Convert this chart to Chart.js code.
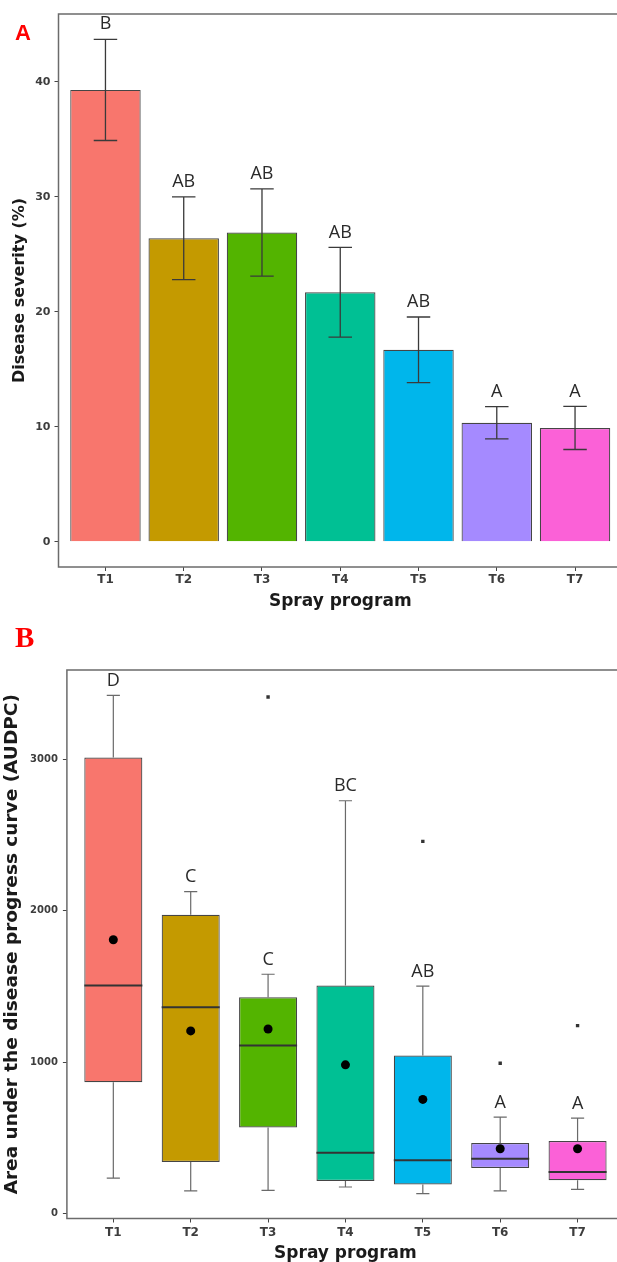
<!DOCTYPE html>
<html><head><meta charset="utf-8">
<script src="https://cdn.jsdelivr.net/npm/chart.js@4/dist/chart.umd.min.js"></script>
<style>
html,body{margin:0;padding:0;background:#fff;overflow:hidden;width:617px;height:1262px;}
#wrap{position:relative;width:640px;height:1262px;overflow:hidden;}
canvas{position:absolute;left:0;}
#cA{top:0}
#cB{top:615px}
</style></head><body>
<div id="wrap"><canvas id="cA" width="640" height="615"></canvas><canvas id="cB" width="640" height="660"></canvas></div>
<script>
// ---------- data ----------
const categories = ['T1','T2','T3','T4','T5','T6','T7'];
const colors = ['#F8766D','#C49A00','#53B400','#00C094','#00B6EB','#A58AFF','#FB61D7'];
// Panel A: disease severity (%)
const severityMean = [39.3, 26.4, 26.9, 21.7, 16.7, 10.35, 9.9];
const severitySE = [4.4, 3.6, 3.8, 3.9, 2.85, 1.4, 1.87];
const severityLetters = ['B','AB','AB','AB','AB','A','A'];
const severityTicks = [0, 10, 20, 30, 40];
// Panel B: AUDPC boxplots
const audpcLowerWhisker = [235, 150, 154, 176, 132, 150, 160];
const audpcQ1 = [868, 341, 569, 215, 193, 301, 220];
const audpcMedian = [1505, 1362, 1110, 402, 352, 363, 275];
const audpcQ3 = [3010, 1973, 1428, 1505, 1044, 466, 479];
const audpcUpperWhisker = [3421, 2125, 1580, 2725, 1501, 637, 631];
const audpcMean = [1808, 1206, 1219, 982, 754, 428, 428];
const audpcOutlierGroup = [3, 5, 6, 7];
const audpcOutlierValue = [3410, 2457, 993, 1241];
const audpcLetters = ['D','C','C','BC','AB','A','A'];
const audpcTicks = [0, 1000, 2000, 3000];

// ---------- helpers ----------
const FONT = "'DejaVu Sans', sans-serif";
const tickColor = '#3d3d3d';
const titleColor = '#1a1a1a';

function xScaleCfg(title, tickFont, titleFont, titlePadBottom, xHeight, tickPad) {
  return {
    type: 'linear', min: 0.4, max: 7.6, offset: false,
    afterBuildTicks: s => { s.ticks = categories.map((c, i) => ({ value: i + 1 })); },
    afterFit: s => { s.height = xHeight; },
    ticks: { callback: v => categories[Math.round(v) - 1], color: tickColor, font: tickFont, padding: tickPad, maxRotation: 0, autoSkip: false },
    grid: { drawOnChartArea: false, drawTicks: true, tickLength: 4, color: '#444', offset: false },
    border: { display: false },
    title: { display: true, text: title, color: titleColor, font: titleFont, padding: { top: 0, bottom: titlePadBottom } }
  };
}
function yScaleCfg(title, min, max, tickVals, tickFont, titleFont, titlePadTop, yWidth, tickPad) {
  return {
    type: 'linear', min: min, max: max,
    afterBuildTicks: s => { s.ticks = tickVals.map(v => ({ value: v })); },
    afterFit: s => { s.width = yWidth; },
    ticks: { callback: v => String(v), color: tickColor, font: tickFont, padding: tickPad },
    grid: { drawOnChartArea: false, drawTicks: true, tickLength: 4, color: '#444' },
    border: { display: false },
    title: { display: true, text: title, color: titleColor, font: titleFont, padding: { top: titlePadTop, bottom: 0 } }
  };
}
const framePlugin = {
  id: 'frame',
  afterDraw(chart) {
    const a = chart.chartArea, ctx = chart.ctx;
    ctx.save();
    ctx.strokeStyle = '#6b6b6b'; ctx.lineWidth = 1.5;
    ctx.strokeRect(a.left, a.top, a.right - a.left, a.bottom - a.top);
    ctx.restore();
  }
};
function panelLabel(text, font, x, y) {
  return {
    id: 'panelLabel',
    afterDraw(chart) {
      const ctx = chart.ctx;
      ctx.save();
      ctx.fillStyle = '#ff0000'; ctx.font = font;
      ctx.textAlign = 'left'; ctx.textBaseline = 'alphabetic';
      ctx.fillText(text, x, y);
      ctx.restore();
    }
  };
}
const letterFont = "18px 'Open Sans', sans-serif";

// ---------- Panel A ----------
const errorBarPlugin = {
  id: 'errorBars',
  afterDatasetsDraw(chart) {
    const xs = chart.scales.x, ys = chart.scales.y, ctx = chart.ctx;
    ctx.save();
    ctx.strokeStyle = '#3a3a3a'; ctx.lineWidth = 1.3;
    ctx.fillStyle = '#2a2a2a'; ctx.font = letterFont;
    ctx.textAlign = 'center'; ctx.textBaseline = 'middle';
    severityMean.forEach((m, i) => {
      const x = xs.getPixelForValue(i + 1);
      const hw = xs.getPixelForValue(i + 1.15) - x;
      const yt = ys.getPixelForValue(m + severitySE[i]);
      const yb = ys.getPixelForValue(m - severitySE[i]);
      ctx.beginPath();
      ctx.moveTo(x, yt); ctx.lineTo(x, yb);
      ctx.moveTo(x - hw, yt); ctx.lineTo(x + hw, yt);
      ctx.moveTo(x - hw, yb); ctx.lineTo(x + hw, yb);
      ctx.stroke();
      ctx.fillText(severityLetters[i], x, yt - 15);
    });
    ctx.restore();
  }
};

new Chart(document.getElementById('cA'), {
  type: 'bar',
  data: {
    datasets: [{
      data: severityMean.map((v, i) => ({ x: i + 1, y: v })),
      backgroundColor: colors,
      borderColor: '#454545', borderWidth: 1.2,
      barPercentage: 0.9, categoryPercentage: 1
    }]
  },
  options: {
    responsive: false, animation: false,
    layout: { padding: { top: 14, right: 18, left: 0, bottom: 0 } },
    plugins: { legend: { display: false }, tooltip: { enabled: false } },
    scales: {
      x: xScaleCfg('Spray program', { family: FONT, size: 12, weight: 'bold' }, { family: FONT, size: 17, weight: 'bold', lineHeight: 1.2 }, 3, 48, 2),
      y: yScaleCfg('Disease severity (%)', -2.19, 45.9, severityTicks, { family: FONT, size: 11, weight: 'bold' }, { family: FONT, size: 16, weight: 'bold', lineHeight: 1.2 }, 10, 58.5, 4)
    }
  },
  plugins: [framePlugin, errorBarPlugin, panelLabel('A', "bold 22px 'Liberation Sans', Arial, sans-serif", 15, 40)]
});

// ---------- Panel B ----------
const boxPlugin = {
  id: 'boxParts',
  beforeDatasetsDraw(chart) {
    const xs = chart.scales.x, ys = chart.scales.y, ctx = chart.ctx;
    ctx.save();
    ctx.strokeStyle = '#6a6a6a'; ctx.lineWidth = 1.2;
    categories.forEach((c, i) => {
      const x = xs.getPixelForValue(i + 1);
      const hw = xs.getPixelForValue(i + 1.085) - x;
      const yl = ys.getPixelForValue(audpcLowerWhisker[i]);
      const yq1 = ys.getPixelForValue(audpcQ1[i]);
      const yq3 = ys.getPixelForValue(audpcQ3[i]);
      const yu = ys.getPixelForValue(audpcUpperWhisker[i]);
      ctx.beginPath();
      ctx.moveTo(x, yq1); ctx.lineTo(x, yl);
      ctx.moveTo(x, yq3); ctx.lineTo(x, yu);
      ctx.moveTo(x - hw, yl); ctx.lineTo(x + hw, yl);
      ctx.moveTo(x - hw, yu); ctx.lineTo(x + hw, yu);
      ctx.stroke();
    });
    ctx.restore();
  },
  afterDatasetDraw(chart, args) {
    if (args.index !== 0) return;
    const ys = chart.scales.y, ctx = chart.ctx;
    const bars = chart.getDatasetMeta(0).data;
    ctx.save();
    ctx.strokeStyle = '#333'; ctx.lineWidth = 2;
    audpcMedian.forEach((m, i) => {
      const b = bars[i];
      const y = ys.getPixelForValue(m);
      ctx.beginPath();
      ctx.moveTo(b.x - b.width / 2, y); ctx.lineTo(b.x + b.width / 2, y);
      ctx.stroke();
    });
    ctx.restore();
  },
  afterDatasetsDraw(chart) {
    const xs = chart.scales.x, ys = chart.scales.y, ctx = chart.ctx;
    ctx.save();
    ctx.fillStyle = '#2a2a2a'; ctx.font = letterFont;
    ctx.textAlign = 'center'; ctx.textBaseline = 'middle';
    audpcLetters.forEach((t, i) => {
      const x = xs.getPixelForValue(i + 1);
      const yu = ys.getPixelForValue(audpcUpperWhisker[i]);
      ctx.fillText(t, x, yu - 14.5);
    });
    ctx.restore();
  }
};

new Chart(document.getElementById('cB'), {
  type: 'bar',
  data: {
    datasets: [
      {
        type: 'bar',
        data: audpcQ1.map((q, i) => ({ x: i + 1, y: [q, audpcQ3[i]] })),
        backgroundColor: colors,
        borderColor: '#454545', borderWidth: 1.2, borderSkipped: false,
        barPercentage: 0.75, categoryPercentage: 1, order: 3
      },
      {
        type: 'scatter',
        data: audpcMean.map((v, i) => ({ x: i + 1, y: v })),
        pointRadius: 4.5, pointBackgroundColor: '#000', pointBorderColor: '#000', pointBorderWidth: 0,
        showLine: false, order: 1
      },
      {
        type: 'scatter',
        data: audpcOutlierValue.map((v, i) => ({ x: audpcOutlierGroup[i], y: v })),
        pointRadius: 2.4, pointStyle: 'rect', pointBackgroundColor: '#333', pointBorderColor: '#333', pointBorderWidth: 0,
        showLine: false, order: 2
      }
    ]
  },
  options: {
    responsive: false, animation: false,
    layout: { padding: { top: 55, right: 16, left: 0, bottom: 0 } },
    plugins: { legend: { display: false }, tooltip: { enabled: false } },
    scales: {
      x: xScaleCfg('Spray program', { family: FONT, size: 12, weight: 'bold' }, { family: FONT, size: 17, weight: 'bold', lineHeight: 1.2 }, 11.5, 56.5, 3.3),
      y: yScaleCfg('Area under the disease progress curve (AUDPC)', -32, 3588, audpcTicks, { family: FONT, size: 10, weight: 'bold' }, { family: FONT, size: 18.5, weight: 'bold', lineHeight: 1.2 }, 1, 66.9, 5)
    }
  },
  plugins: [framePlugin, boxPlugin, panelLabel('B', "bold 29px 'Liberation Serif', 'DejaVu Serif', serif", 15, 32)]
});
</script>
</body></html>
